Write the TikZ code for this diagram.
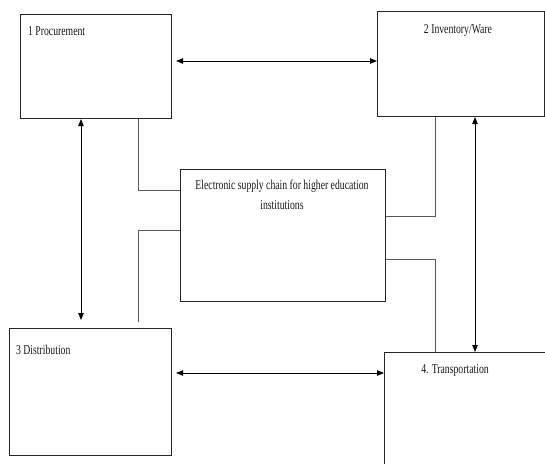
\documentclass[tikz,border=0pt]{standalone}
\usepackage{fontspec}
\setmainfont[FakeStretch=0.72]{Liberation Serif}
\usetikzlibrary{arrows.meta}
\begin{document}
\begin{tikzpicture}[x=1pt,y=-1pt,
  box/.style={draw=black!85,line width=1.1pt,rectangle,inner sep=0pt,anchor=north west},
  conn/.style={draw=black!65,line width=0.9pt},
  dbl/.style={draw=black,line width=0.9pt,{Triangle[length=7pt,width=5.5pt]}-{Triangle[length=7pt,width=5.5pt]}},
  lbl/.style={font=\fontsize{13.5}{15}\selectfont,inner sep=0pt,text=black!90}]
\clip (0,0) rectangle (545,463);
\fill[white] (0,0) rectangle (545,463);
% boxes
\node[box,minimum width=151pt,minimum height=104pt] (p) at (20,14) {};
\node[box,minimum width=167pt,minimum height=105pt] (q) at (377,11) {};
\node[box,minimum width=205pt,minimum height=132pt] (c) at (180,169) {};
\node[box,minimum width=162pt,minimum height=127pt] (d) at (9,328) {};
\node[box,minimum width=180pt,minimum height=130pt] (t) at (384,352) {};
% labels
\node[lbl,anchor=base west] (pl) at (28,35) {1 Procurement};
\node[lbl,anchor=base] (ql) at (458,33) {2 Inventory/Ware};
\node[lbl,anchor=base west] (dl) at (16,354) {3 Distribution};
\node[lbl,anchor=base] (tl) at (455,373) {4. Transportation};
\node[lbl,anchor=north,align=center,font=\fontsize{13.5}{20}\selectfont] (cl) at (282,180) {Electronic supply chain for higher education\\institutions};
% bend coordinates
\coordinate (b1) at (138,190);
\coordinate (b2) at (138,230);
\coordinate (b3) at (435,216);
\coordinate (b4) at (435,259);
\coordinate (e3) at (138,322);
% connectors
\draw[conn] (p.south -| b1) -- (b1) -- (c.west |- b1);
\draw[conn] (c.west |- b2) -- (b2) -- (e3);
\draw[conn] (c.east |- b3) -- (b3) -- (q.south -| b3);
\draw[conn] (c.east |- b4) -- (b4) -- (t.north -| b4);
% arrows
\coordinate (a12) at (0,61);
\coordinate (a34) at (0,373);
\coordinate (v13) at (81,0);
\coordinate (v24) at (475,0);
\coordinate (e13) at (81,320);
\draw[dbl] ([xshift=4pt]p.east |- a12) -- (q.west |- a12);
\draw[dbl] ([xshift=4pt]d.east |- a34) -- (t.west |- a34);
\draw[dbl] (p.south -| v13) -- (e13);
\draw[dbl] (q.south -| v24) -- (t.north -| v24);
\end{tikzpicture}
\end{document}
